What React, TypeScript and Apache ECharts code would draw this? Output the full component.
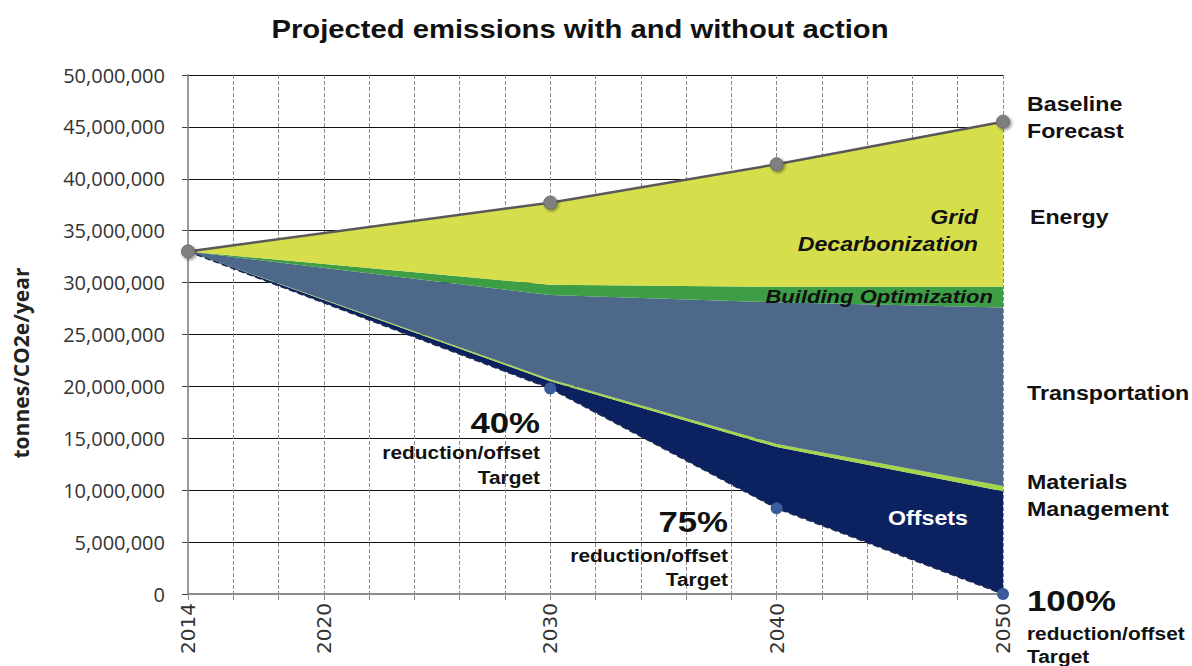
import React, { useEffect, useRef } from "react";
import * as echarts from "echarts";

// ---- data (tonnes CO2e / year) ----
const years = [2014, 2030, 2040, 2050];
const baselineForecast = [33000000, 37700000, 41400000, 45500000];
const reductionTarget = [33000000, 19800000, 8250000, 0];
const offsets = [0, 700000, 5900000, 9900000];
const materialsManagement = [0, 200000, 300000, 500000];
const transportation = [0, 8100000, 13650000, 17200000];
const buildingOptimization = [0, 1000000, 1500000, 2000000];
const gridDecarbonization = [0, 7900000, 11800000, 15900000];
const xTickLabels = [2014, 2020, 2030, 2040, 2050];
const xMin = 2014;
const xMax = 2050;
const xStep = 2;
const yMax = 50000000;
const yStep = 5000000;

const COLORS = {
  energy: "#d6df4b",
  building: "#3d9e46",
  transport: "#4e6889",
  materials: "#a5d54a",
  offsets: "#0b2160",
};

const fmt = (v: number) => String(v).replace(/\B(?=(\d{3})+(?!\d))/g, ",");

const valueFirst = (vals: number[]) => vals.map((v, i) => [v, years[i]]);

const band = (name: string, vals: number[], color: string) => ({
  name,
  type: "line",
  stack: "total",
  data: valueFirst(vals),
  encode: { x: 1, y: 0 },
  symbol: "none",
  lineStyle: { width: 0, opacity: 0 },
  areaStyle: { color, opacity: 1 },
  z: 2,
  silent: true,
});

const SX = 1.16;
const txt = (
  x: number,
  y: number,
  text: string,
  size: number,
  align: string,
  opts: any = {}
) => ({
  type: "text",
  x,
  y,
  scaleX: opts.scaleX ?? SX,
  rotation: opts.rotation ?? 0,
  z: 100,
  silent: true,
  style: {
    text,
    fill: opts.fill ?? "#111",
    fontSize: size,
    fontWeight: opts.weight ?? "bold",
    fontStyle: opts.italic ? "italic" : "normal",
    fontFamily: opts.family ?? "Liberation Sans, Arial, sans-serif",
    align,
    verticalAlign: "middle",
  },
});

export default function App() {
  const ref = useRef<HTMLDivElement>(null);
  useEffect(() => {
    if (!ref.current) return;
    const chart = echarts.init(ref.current, null, { renderer: "svg" });
    const option: any = {
      animation: false,
      backgroundColor: "#ffffff",
      grid: { left: 188, right: 189, top: 75, bottom: 72, containLabel: false, outerBoundsMode: "none" },
      xAxis: {
        type: "value",
        min: xMin,
        max: xMax,
        interval: xStep,
        axisLine: { show: true, onZero: false, lineStyle: { color: "#8c8c8c", width: 2 } },
        axisTick: { show: true, length: 6, lineStyle: { color: "#8c8c8c", width: 1 } },
        axisLabel: {
          rotate: 90,
          margin: 9,
          fontSize: 20,
          fontFamily: "DejaVu Sans",
          color: "#333",
          showMinLabel: true,
          showMaxLabel: true,
          formatter: (v: number) => (xTickLabels.includes(v) ? String(v) : ""),
        },
        splitLine: { show: true, lineStyle: { color: "#8a8a8a", type: "dashed", width: 1 } },
      },
      yAxis: {
        type: "value",
        min: 0,
        max: yMax,
        interval: yStep,
        axisLine: { show: true, lineStyle: { color: "#9a9a9a", width: 2 } },
        axisTick: { show: true, length: 6, lineStyle: { color: "#444", width: 1 } },
        axisLabel: {
          margin: 23,
          fontSize: 20,
          fontFamily: "Open Sans",
          color: "#333",
          formatter: (v: number) => fmt(v),
        },
        splitLine: { show: true, lineStyle: { color: "#111111", width: 1 } },
      },
      series: [
        {
          name: "base",
          type: "line",
          stack: "total",
          data: valueFirst(reductionTarget),
          encode: { x: 1, y: 0 },
          symbol: "none",
          lineStyle: { width: 0, opacity: 0 },
          silent: true,
          z: 2,
        },
        band("Offsets", offsets, COLORS.offsets),
        band("Materials Management", materialsManagement, COLORS.materials),
        band("Transportation", transportation, COLORS.transport),
        band("Building Optimization", buildingOptimization, COLORS.building),
        band("Grid Decarbonization", gridDecarbonization, COLORS.energy),
        {
          name: "Target",
          type: "line",
          data: reductionTarget.map((v, i) =>
            i === 0 ? { value: [years[i], v], symbol: "none" } : { value: [years[i], v] }
          ),
          symbol: "circle",
          symbolSize: 12,
          itemStyle: { color: "#3b5b9c" },
          lineStyle: { color: "#1c2b4f", type: "dashed", width: 1.5 },
          silent: true,
          z: 5,
        },
        {
          name: "Baseline Forecast",
          type: "line",
          data: baselineForecast.map((v, i) => [years[i], v]),
          symbol: "circle",
          symbolSize: 13,
          itemStyle: {
            color: "#7f7f7f",
            borderColor: "#6b6b6b",
            borderWidth: 1,
            shadowBlur: 3,
            shadowColor: "rgba(0,0,0,0.45)",
            shadowOffsetX: 1.5,
            shadowOffsetY: 1.5,
          },
          lineStyle: { color: "#595959", width: 2.5 },
          silent: true,
          z: 6,
        },
      ],
      graphic: [
        txt(580, 29, "Projected emissions with and without action", 25, "center", { scaleX: 1.17 }),
        txt(21, 363, "tonnes/CO2e/year", 21, "center", {
          rotation: Math.PI / 2,
          scaleX: 1,
          family: "Open Sans",
          fill: "#222",
        }),
        txt(1027, 104, "Baseline", 20, "left"),
        txt(1027, 131, "Forecast", 20, "left"),
        txt(1030, 217, "Energy", 20, "left"),
        txt(1027, 393, "Transportation", 20, "left"),
        txt(1027, 482, "Materials", 20, "left"),
        txt(1027, 509, "Management", 20, "left"),
        txt(1027, 601, "100%", 30, "left"),
        txt(1027, 634, "reduction/offset", 18, "left"),
        txt(1027, 657, "Target", 18, "left"),
        txt(978, 217, "Grid", 20, "right", { italic: true }),
        txt(978, 244, "Decarbonization", 20, "right", { italic: true }),
        txt(993, 296, "Building Optimization", 19, "right", { italic: true }),
        txt(928, 518, "Offsets", 20, "center", { fill: "#ffffff" }),
        txt(540, 423, "40%", 30, "right"),
        txt(540, 453, "reduction/offset", 18, "right"),
        txt(540, 478, "Target", 18, "right"),
        txt(728, 522, "75%", 30, "right"),
        txt(728, 556, "reduction/offset", 18, "right"),
        txt(728, 580, "Target", 18, "right"),
      ],
    };
    chart.setOption(option);
    return () => chart.dispose();
  }, []);
  return (
    <div
      ref={ref}
      style={{ position: "fixed", left: 0, top: 0, width: 1192, height: 666, background: "#fff" }}
    />
  );
}
